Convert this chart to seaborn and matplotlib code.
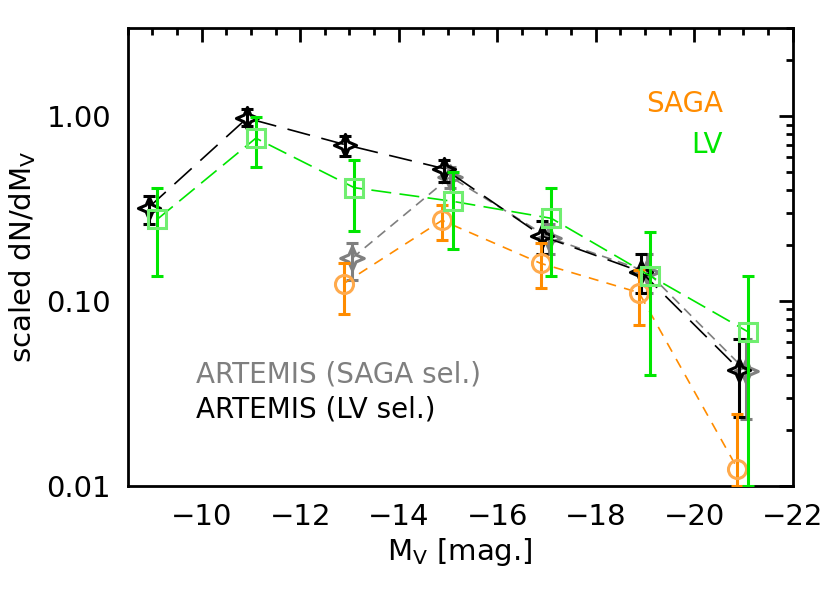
import numpy as np
import pandas as pd
import seaborn as sns
import matplotlib.pyplot as plt
from matplotlib.path import Path
from matplotlib.ticker import FixedLocator, FixedFormatter, LogLocator, NullFormatter


# magnitude bins
mv_bins = [-9, -11, -13, -15, -17, -19, -21]

# ARTEMIS (LV sel.)
lv_sel_y  = [0.32, 0.975, 0.70, 0.52, 0.224, 0.144, 0.0425]
lv_sel_hi = [0.37, 1.09, 0.78, 0.58, 0.27, 0.18, 0.062]
lv_sel_lo = [0.26, 0.88, 0.61, 0.44, 0.18, 0.11, 0.0237]

# ARTEMIS (SAGA sel.)
saga_sel_x  = [-13, -15, -17, -19, -21]
saga_sel_y  = [0.17, 0.47, 0.22, 0.144, 0.042]
saga_sel_hi = [0.207, 0.53, 0.26, 0.18, 0.062]
saga_sel_lo = [0.13, 0.41, 0.18, 0.11, 0.023]

# SAGA
saga_x  = [-13, -15, -17, -19, -21]
saga_y  = [0.124, 0.273, 0.16, 0.111, 0.0124]
saga_hi = [0.16, 0.33, 0.205, 0.148, 0.0246]
saga_lo = [0.085, 0.215, 0.117, 0.074, 0.01]

# LV
lv_y  = [0.277, 0.76, 0.41, 0.346, 0.28, 0.137, 0.068]
lv_hi = [0.41, 0.99, 0.58, 0.50, 0.41, 0.235, 0.137]
lv_lo = [0.137, 0.53, 0.24, 0.19, 0.137, 0.04, 0.01]

y_ticks = [0.01, 0.1, 1.0]
y_tick_labels = ['0.01', '0.10', '1.00']
x_ticks = [-10, -12, -14, -16, -18, -20, -22]

ORANGE = '#FF8C00'
GREEN = '#00E600'
GRAY = '#7F7F7F'

sns.set_style('white')
plt.rcParams['font.family'] = ['DejaVu Sans']
plt.rcParams['text.color'] = 'black'
plt.rcParams['axes.labelcolor'] = 'black'

# concave four-point diamond like the IDL symbol
diamond = Path([(0, 1), (0.3, 0.3), (1, 0), (0.3, -0.3), (0, -1),
                (-0.3, -0.3), (-1, 0), (-0.3, 0.3), (0, 1)],
               [Path.MOVETO] + [Path.LINETO] * 7 + [Path.CLOSEPOLY])

fig = plt.figure(figsize=(8.3, 5.94), dpi=100)
ax = fig.add_axes([0.154, 0.182, 0.801, 0.771])


def draw(x, y, lo, hi, offset, color, mcolor, marker, ms, dash, z):
    xs = np.array(x) + offset
    df = pd.DataFrame({'x': xs, 'y': y})
    sns.lineplot(data=df, x='x', y='y', ax=ax, color=color, sort=False, estimator=None,
                 linewidth=1.2, linestyle=(0, dash), zorder=z)
    yerr = [np.array(y) - np.array(lo), np.array(hi) - np.array(y)]
    ax.errorbar(xs, y, yerr=yerr, fmt='none', ecolor=color, elinewidth=2.2,
                capsize=4, capthick=2.2, zorder=z + 0.1)
    ax.plot(xs, y, linestyle='none', marker=marker, markersize=ms, markerfacecolor='none',
            markeredgecolor=mcolor, markeredgewidth=2.2, zorder=z + 0.2)


# the x axis runs backwards, so negative offsets shift marks to the right
draw(saga_sel_x, saga_sel_y, saga_sel_lo, saga_sel_hi, -0.05, GRAY, GRAY, diamond, 17, (6, 4), 2)
draw(mv_bins, lv_sel_y, lv_sel_lo, lv_sel_hi, 0.08, 'black', 'black', diamond, 16, (14, 7), 3)
draw(saga_x, saga_y, saga_lo, saga_hi, 0.12, ORANGE, '#FFAA4C', 'o', 13, (6, 5), 4)
draw(mv_bins, lv_y, lv_lo, lv_hi, -0.1, GREEN, '#70EE70', 's', 13, (12, 5), 5)

ax.set_yscale('log')
ax.set_xlim(-8.5, -22)
ax.set_ylim(0.01, 3.0)

ax.yaxis.set_major_locator(FixedLocator(y_ticks))
ax.yaxis.set_major_formatter(FixedFormatter(y_tick_labels))
ax.yaxis.set_minor_locator(LogLocator(base=10, subs=np.arange(2, 10)))
ax.yaxis.set_minor_formatter(NullFormatter())
ax.set_xticks(x_ticks)
ax.set_xticklabels([f'\u2212{abs(t)}' for t in x_ticks])
ax.set_xticks(np.arange(-8.5, -22.01, -0.5), minor=True)

ax.tick_params(which='both', direction='in', top=True, right=True, labelsize=21,
               colors='black', width=2)
ax.tick_params(which='major', length=10, pad=12)
ax.tick_params(which='minor', length=5)
for s in ax.spines.values():
    s.set_linewidth(2)
    s.set_color('black')

ax.set_xlabel(r'M$_\mathregular{V}$ [mag.]', fontsize=21, labelpad=4)
ax.set_ylabel(r'scaled dN/dM$_\mathregular{V}$', fontsize=21, labelpad=6)

ax.text(0.895, 0.833, 'SAGA', color=ORANGE, fontsize=20, ha='right', va='center',
        transform=ax.transAxes)
ax.text(0.895, 0.745, 'LV', color=GREEN, fontsize=20, ha='right', va='center',
        transform=ax.transAxes)
ax.text(0.103, 0.243, 'ARTEMIS (SAGA sel.)', color=GRAY, fontsize=20, ha='left', va='center',
        transform=ax.transAxes)
ax.text(0.103, 0.166, 'ARTEMIS (LV sel.)', color='black', fontsize=20, ha='left', va='center',
        transform=ax.transAxes)

plt.savefig('out.png', dpi=100)
plt.close()
